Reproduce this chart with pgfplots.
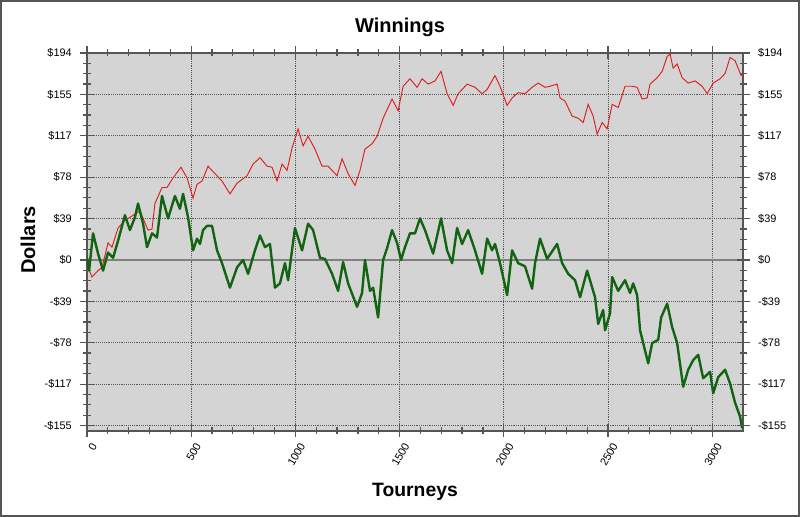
\documentclass[border=0pt]{standalone}
\usepackage{pgfplots}
\pgfplotsset{compat=1.18}
\usepackage{fontspec}
\setmainfont{Liberation Sans}
\definecolor{bg}{RGB}{212,212,212}
\definecolor{axgray}{RGB}{85,85,85}
\definecolor{wred}{RGB}{222,28,28}
\definecolor{wgreen}{RGB}{18,100,18}
\definecolor{zerogray}{RGB}{128,128,128}
\begin{document}
\begin{tikzpicture}
\useasboundingbox (-65.25pt,-64.5pt) rectangle (534.75pt,323.25pt);
\draw[axgray, line width=1.5pt] (-64.5pt,-63.75pt) rectangle (534pt,322.5pt);
\pgfplotsset{common/.style={scale only axis, width=492pt, height=283.5pt,
  xmin=0, xmax=3148, ymin=-160.5, ymax=194.2,
  ytick={-155.36,-116.52,-77.68,-38.84,0,38.84,77.68,116.52,155.36,194.2},
  yticklabels={-\$155,-\$117,-\$78,-\$39,\$0,\$39,\$78,\$117,\$155,\$194},
  minor y tick num=3, tick align=center,
  major tick length=9.75pt, minor tick length=5.25pt,
  every tick/.style={axgray, line width=0.9pt},
  ticklabel style={font=\fontsize{8.2}{9}\selectfont},
  /pgf/number format/assume math mode=true, /pgf/number format/1000 sep={},
}}
\begin{axis}[common,
  axis background/.style={fill=bg},
  axis line style={axgray, line width=1.3pt},
  xtick={0,500,...,3000}, minor x tick num=4,
  grid=major, major grid style={densely dotted, black!65, line width=0.6pt},
  xticklabel style={rotate=60, anchor=east, xshift=2pt, yshift=-7pt},
  yticklabel style={xshift=-3pt},
  ytick pos=left,
]
\draw[zerogray, line width=1.4pt] (axis cs:0,0) -- (axis cs:3148,0);
\addplot[wred, line width=0.7pt] coordinates {
(0,0) (5,-7) (24,-16) (53,-10) (72,-7) (101,16) (120,12) (149,30) (182,37) (230,43)
(254,46) (293,28) (312,29) (326,53) (360,68) (384,68) (413,77) (451,87) (480,77) (509,58)
(528,71) (552,74) (581,88) (614,81) (648,74) (686,62) (720,72) (768,79) (797,90) (830,96)
(864,88) (888,87) (912,74) (936,90) (960,84) (984,105) (1013,123) (1037,107) (1061,116) (1094,104)
(1128,88) (1157,88) (1200,79) (1224,95) (1253,81) (1286,70) (1310,84) (1334,104) (1368,109) (1392,116)
(1421,133) (1464,151) (1493,140) (1517,163) (1550,170) (1584,162) (1608,170) (1637,165) (1670,168) (1699,177)
(1728,156) (1757,145) (1781,156) (1824,165) (1862,162) (1896,156) (1920,160) (1958,173) (1982,163) (2016,145)
(2040,152) (2069,157) (2102,156) (2136,162) (2165,166) (2198,162) (2222,163) (2256,165) (2270,152) (2294,149)
(2328,135) (2357,133) (2381,129) (2405,146) (2429,135) (2448,118) (2472,129) (2496,123) (2520,146) (2549,143)
(2582,163) (2616,163) (2640,162) (2664,151) (2688,152) (2702,165) (2736,171) (2760,177) (2784,191) (2798,193)
(2813,180) (2832,184) (2856,171) (2885,166) (2918,168) (2952,163) (2976,156) (3005,166) (3038,170) (3062,175)
(3086,190) (3110,187) (3139,173) (3148,175)
};
\addplot[wgreen, line width=1.8pt, line join=round] coordinates {
(0,2) (10,-10) (29,25) (53,6) (77,-10) (101,7) (125,2) (149,18) (182,42) (206,28)
(230,40) (245,53) (269,34) (288,12) (312,25) (336,21) (360,60) (389,39) (422,60) (446,48)
(461,62) (485,40) (509,9) (528,20) (542,15) (557,28) (576,32) (600,32) (624,9) (648,-3)
(686,-26) (720,-7) (749,0) (773,-13) (806,9) (830,23) (854,12) (878,15) (902,-26) (926,-22)
(950,-3) (965,-19) (998,30) (1032,9) (1061,34) (1085,28) (1118,2) (1142,1) (1176,-13) (1205,-29)
(1229,-2) (1253,-22) (1296,-44) (1320,-31) (1334,0) (1358,-29) (1373,-26) (1397,-54) (1421,0) (1440,11)
(1464,28) (1488,16) (1507,0) (1526,12) (1550,25) (1574,25) (1598,39) (1622,28) (1661,6) (1699,39)
(1728,9) (1752,-3) (1776,30) (1800,15) (1829,28) (1862,9) (1896,-13) (1920,20) (1944,9) (1958,15)
(1982,-3) (2016,-33) (2040,9) (2069,-3) (2102,-6) (2136,-27) (2150,-3) (2174,20) (2208,1) (2256,15)
(2280,-3) (2309,-13) (2342,-19) (2366,-35) (2400,-10) (2438,-35) (2453,-60) (2477,-47) (2486,-66) (2510,-50)
(2520,-16) (2549,-29) (2582,-19) (2606,-31) (2621,-22) (2640,-33) (2654,-66) (2693,-97) (2712,-78) (2741,-75)
(2755,-54) (2784,-41) (2808,-63) (2832,-78) (2861,-119) (2885,-103) (2909,-94) (2933,-89) (2957,-111) (2990,-105)
(3005,-125) (3029,-110) (3062,-103) (3086,-116) (3110,-134) (3134,-147) (3144,-158)
};
\end{axis}
\begin{axis}[common, axis x line=none, xtick=\empty, xticklabels={}, axis y line*=right,
  axis line style={draw=none},
  yticklabel style={anchor=west, xshift=3pt},
]
\end{axis}
\node[font=\fontsize{15}{18}\selectfont\bfseries] at (234.75pt,303pt) {Winnings};
\node[font=\fontsize{15}{18}\selectfont\bfseries, rotate=90] at (-44.25pt,143.25pt) {Dollars};
\node[font=\fontsize{14.5}{17}\selectfont\bfseries] at (246pt,-45.75pt) {Tourneys};
\end{tikzpicture}
\end{document}
